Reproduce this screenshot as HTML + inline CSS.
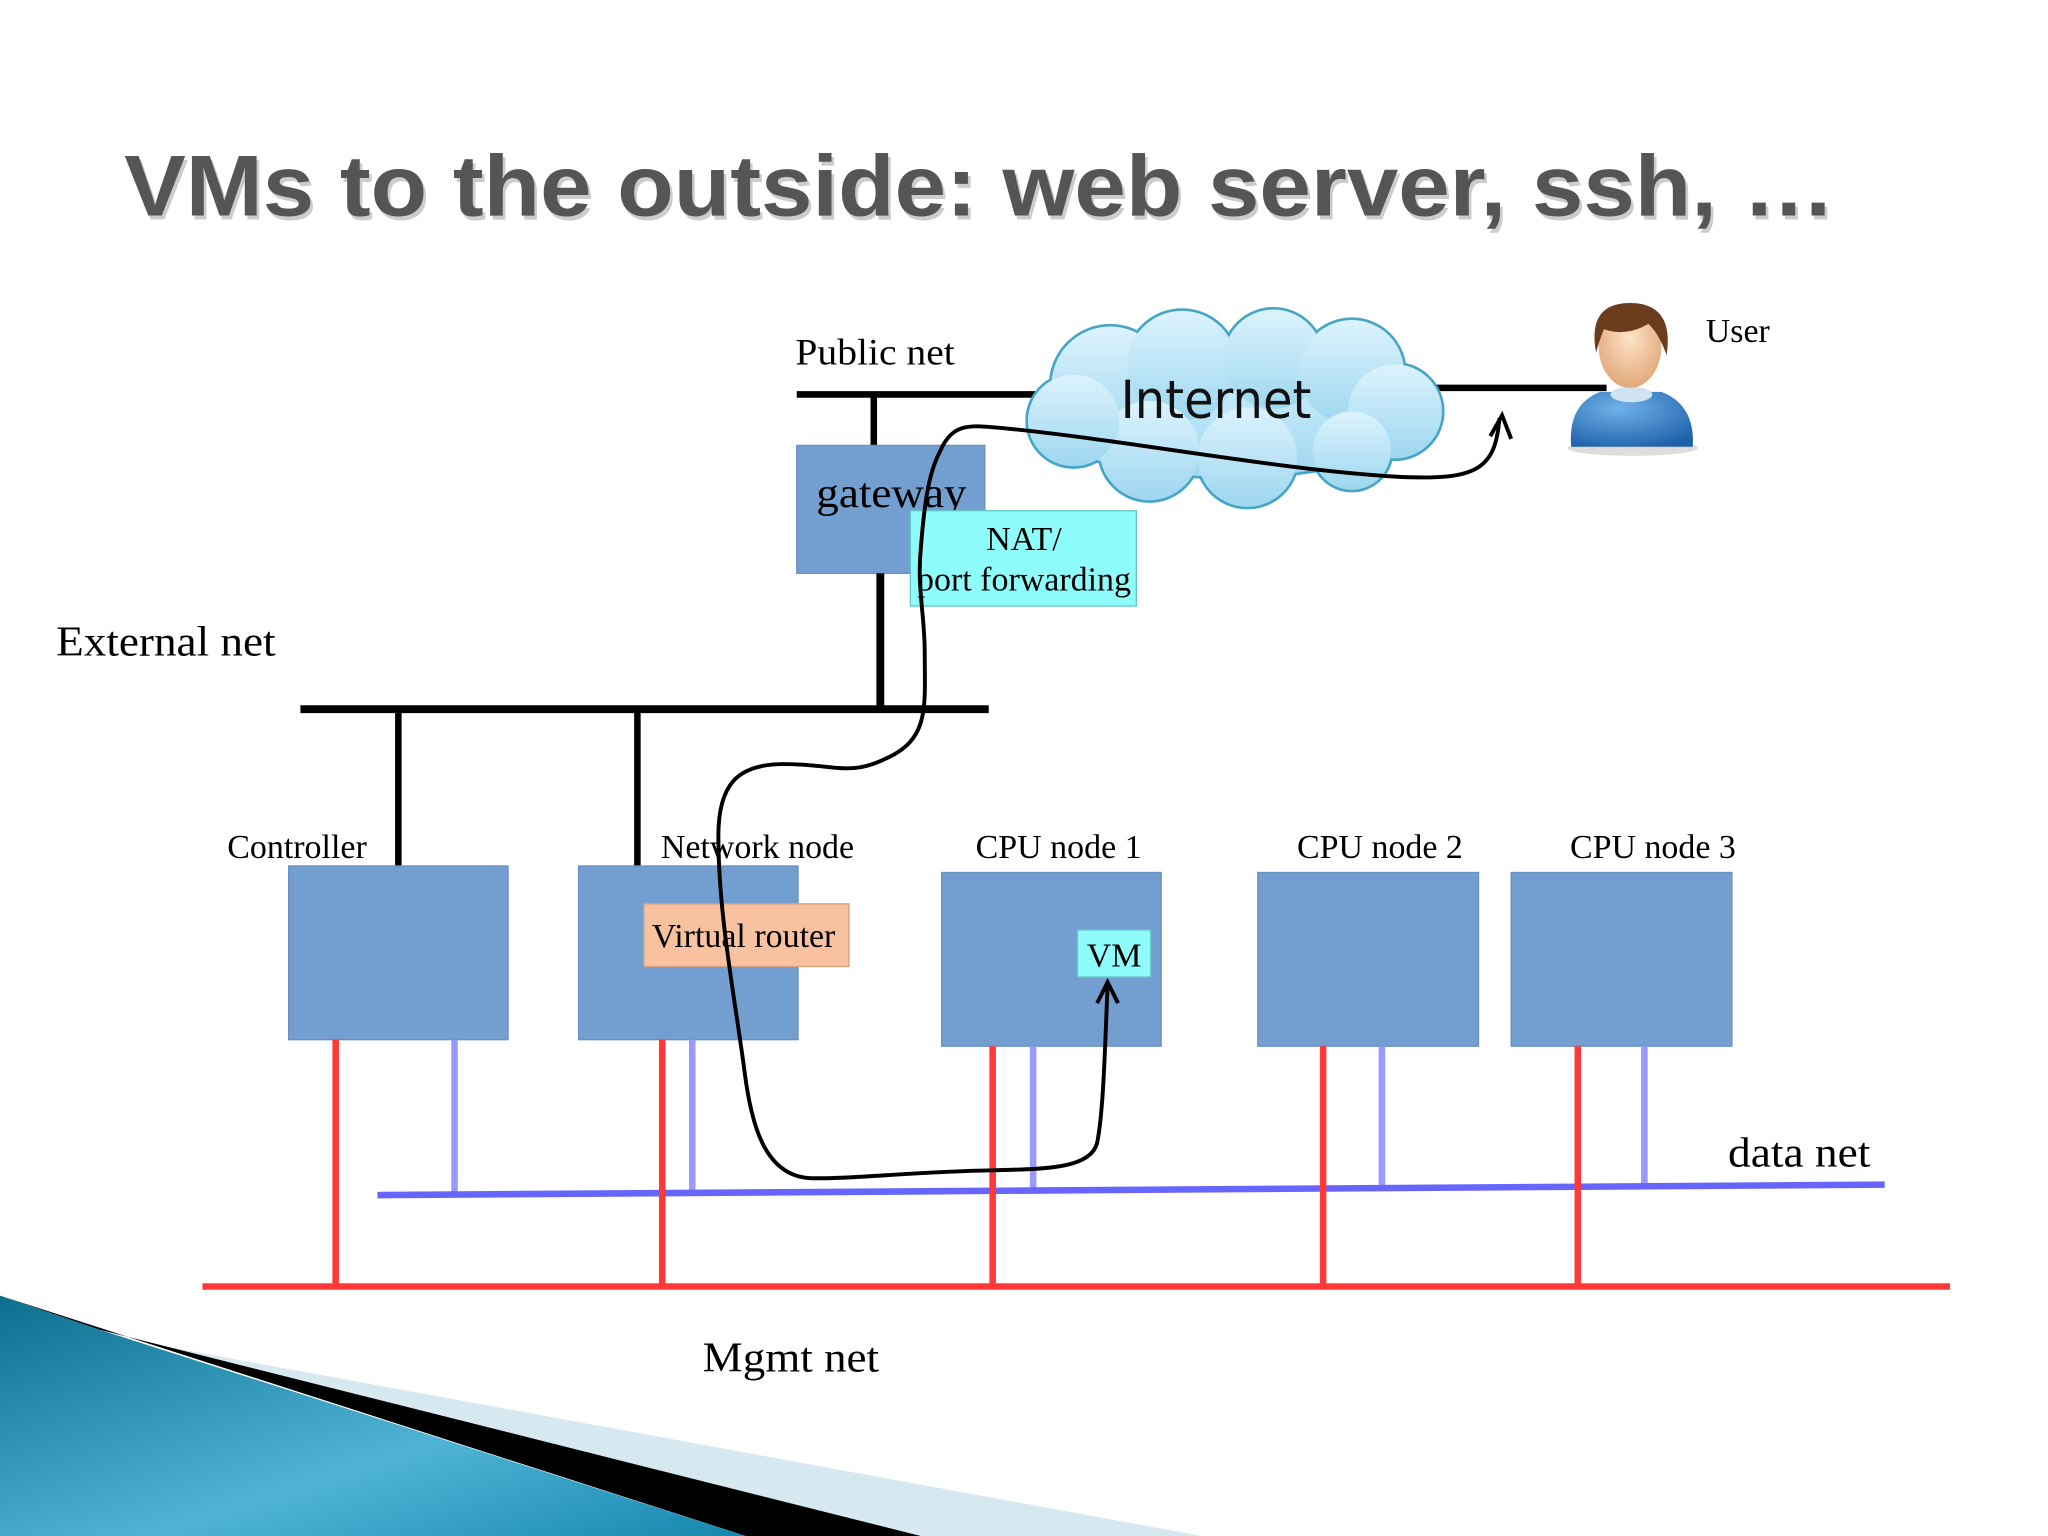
<!DOCTYPE html>
<html><head><meta charset="utf-8"><style>
html,body{margin:0;padding:0;background:#fff}
svg{display:block}
text{font-family:"Liberation Serif",serif}
</style></head><body>
<svg width="2048" height="1536" viewBox="0 0 1568 1176" xmlns="http://www.w3.org/2000/svg">
<defs>
<linearGradient id="cg" x1="0" y1="0" x2="0" y2="1"><stop offset="0" stop-color="#dcf3fd"/><stop offset="1" stop-color="#9ed7f0"/></linearGradient>
<linearGradient id="tg" x1="0" y1="0" x2="1" y2="1"><stop offset="0" stop-color="#0c6f8f"/><stop offset="0.6" stop-color="#4fb4d6"/><stop offset="1" stop-color="#1687ad"/></linearGradient>
<radialGradient id="body" cx="0.4" cy="0.3" r="0.8"><stop offset="0" stop-color="#6fb2ea"/><stop offset="1" stop-color="#1d5fa8"/></radialGradient>
<radialGradient id="face" cx="0.5" cy="0.4" r="0.6"><stop offset="0" stop-color="#fde3c8"/><stop offset="1" stop-color="#e2a97a"/></radialGradient>
</defs>
<rect width="1568" height="1176" fill="#fff"/>
<polygon points="127,1031 920,1176 705,1176 76,1018" fill="#d6e8f0"/>
<polygon points="76,1018 705,1176 571,1176 0,992" fill="#000"/>
<polygon points="0,992 76,1018 571,1176 0,1176" fill="url(#tg)"/>
<text x="95" y="165" font-size="66" font-weight="bold" fill="#ccc" textLength="1310" lengthAdjust="spacingAndGlyphs" style="font-family:'Liberation Sans',sans-serif" transform="translate(2,3)">VMs to the outside: web server, ssh, …</text>
<text x="95" y="165" font-size="66" font-weight="bold" fill="#555" textLength="1310" lengthAdjust="spacingAndGlyphs" style="font-family:'Liberation Sans',sans-serif">VMs to the outside: web server, ssh, …</text>
<line x1="610" y1="302" x2="800" y2="302" stroke="#000" stroke-width="5"/>
<line x1="1090" y1="297" x2="1230" y2="297" stroke="#000" stroke-width="5"/>
<line x1="669" y1="302" x2="669" y2="342" stroke="#000" stroke-width="5"/>
<text x="609" y="279" font-size="28" textLength="122" lengthAdjust="spacingAndGlyphs">Public net</text>
<g stroke="#45a5c6" stroke-width="4">
<ellipse cx="940" cy="315" rx="150" ry="50"/>
<circle cx="850" cy="295" r="45"/><circle cx="905" cy="280" r="42"/><circle cx="975" cy="275" r="38"/><circle cx="1035" cy="285" r="40"/><circle cx="1068" cy="315" r="36"/><circle cx="1035" cy="345" r="30"/><circle cx="955" cy="350" r="38"/><circle cx="880" cy="345" r="38"/><circle cx="822" cy="322" r="35"/>
</g>
<g fill="url(#cg)">
<ellipse cx="940" cy="315" rx="150" ry="50"/>
<circle cx="850" cy="295" r="45"/><circle cx="905" cy="280" r="42"/><circle cx="975" cy="275" r="38"/><circle cx="1035" cy="285" r="40"/><circle cx="1068" cy="315" r="36"/><circle cx="1035" cy="345" r="30"/><circle cx="955" cy="350" r="38"/><circle cx="880" cy="345" r="38"/><circle cx="822" cy="322" r="35"/>
</g>
<text x="858" y="320" font-size="40" textLength="146" lengthAdjust="spacingAndGlyphs" style="font-family:'DejaVu Sans',sans-serif" fill="#111">Internet</text>
<ellipse cx="1250" cy="343" rx="50" ry="6" fill="#ddd"/>
<path d="M1203,342 Q1200,310 1225,300 L1272,300 Q1298,310 1296,342 Z" fill="url(#body)"/>
<ellipse cx="1249" cy="302" rx="16" ry="6" fill="#cfe3f3"/>
<ellipse cx="1248" cy="265" rx="24" ry="32" fill="url(#face)"/>
<path d="M1222,270 Q1215,232 1248,232 Q1282,232 1276,272 Q1270,255 1262,248 Q1245,258 1228,252 Q1224,262 1222,270Z" fill="#6b3d1e"/>
<text x="1306" y="262" font-size="26" textLength="49" lengthAdjust="spacingAndGlyphs">User</text>
<rect x="610" y="341" width="144" height="98" fill="#729fcf" stroke="#6a90c0"/>
<text x="625" y="388" font-size="32" textLength="115" lengthAdjust="spacingAndGlyphs">gateway</text>
<rect x="697" y="391" width="173" height="73" fill="#8ffcfc" stroke="#66c6c6"/>
<text x="784" y="421" font-size="26" text-anchor="middle">NAT/</text>
<text x="784" y="452" font-size="26" text-anchor="middle">port forwarding</text>
<line x1="674" y1="439" x2="674" y2="543" stroke="#000" stroke-width="6"/>
<line x1="230" y1="543" x2="757" y2="543" stroke="#000" stroke-width="6"/>
<line x1="305" y1="543" x2="305" y2="663" stroke="#000" stroke-width="5"/>
<line x1="488" y1="543" x2="488" y2="663" stroke="#000" stroke-width="5"/>
<text x="43" y="502" font-size="32" textLength="168" lengthAdjust="spacingAndGlyphs">External net</text>
<rect x="221" y="663" width="168" height="133" fill="#729fcf" stroke="#6a90c0"/>
<rect x="443" y="663" width="168" height="133" fill="#729fcf" stroke="#6a90c0"/>
<rect x="721" y="668" width="168" height="133" fill="#729fcf" stroke="#6a90c0"/>
<rect x="963" y="668" width="169" height="133" fill="#729fcf" stroke="#6a90c0"/>
<rect x="1157" y="668" width="169" height="133" fill="#729fcf" stroke="#6a90c0"/>
<text x="174" y="657" font-size="26">Controller</text>
<text x="506" y="657" font-size="26">Network node</text>
<text x="747" y="657" font-size="26">CPU node 1</text>
<text x="993" y="657" font-size="26">CPU node 2</text>
<text x="1202" y="657" font-size="26">CPU node 3</text>
<rect x="493" y="692" width="157" height="48" fill="#f8c1a0" stroke="#d9a080"/>
<text x="499" y="725" font-size="26">Virtual router</text>
<rect x="825" y="712" width="56" height="36" fill="#8ffcfc" stroke="#66c6c6"/>
<text x="853" y="740" font-size="26" text-anchor="middle">VM</text>
<g stroke="#9999ff" stroke-width="5">
<line x1="348" y1="796" x2="348" y2="915"/><line x1="530" y1="796" x2="530" y2="914"/><line x1="791" y1="801" x2="791" y2="912"/><line x1="1058" y1="801" x2="1058" y2="910"/><line x1="1259" y1="801" x2="1259" y2="908"/>
</g>
<line x1="289" y1="915" x2="1443" y2="907" stroke="#6666ff" stroke-width="5"/>
<text x="1323" y="893" font-size="32" textLength="109" lengthAdjust="spacingAndGlyphs">data net</text>
<g stroke="#ff3838" stroke-width="5">
<line x1="257" y1="796" x2="257" y2="985"/><line x1="507" y1="796" x2="507" y2="985"/><line x1="760" y1="801" x2="760" y2="985"/><line x1="1013" y1="801" x2="1013" y2="985"/><line x1="1208" y1="801" x2="1208" y2="985"/>
<line x1="155" y1="985" x2="1493" y2="985"/>
</g>
<text x="538" y="1050" font-size="32" textLength="135" lengthAdjust="spacingAndGlyphs">Mgmt net</text>
<path d="M848,755 C846,800 845,850 840,875 C835,895 800,895 760,896 C700,897 650,903 620,902 C585,900 575,860 570,820 C562,760 550,700 550,640 C550,600 565,585 600,585 C640,585 650,595 680,580 C712,565 708,540 708,500 C708,470 702,450 705,420 C708,380 712,360 720,345 C730,322 745,326 770,328 C870,338 980,360 1070,365 C1130,368 1145,360 1148,320" fill="none" stroke="#000" stroke-width="3"/>
<path d="M840,768 L848,752 L856,768" fill="none" stroke="#000" stroke-width="3"/>
<path d="M1141,334 L1150,318 L1157,336" fill="none" stroke="#000" stroke-width="3"/>
</svg>
</body></html>
